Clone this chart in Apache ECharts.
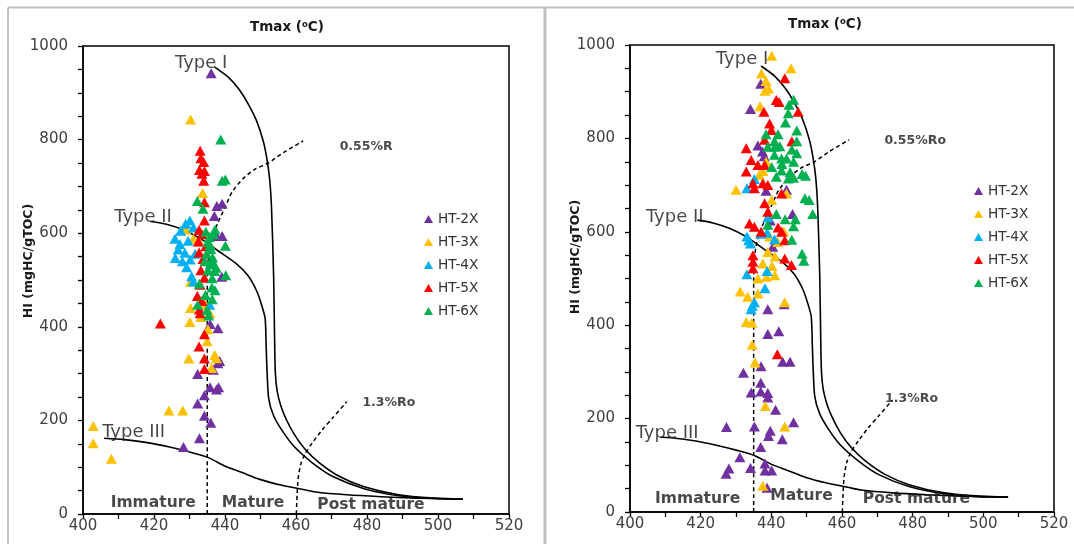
<!DOCTYPE html>
<html>
<head>
<meta charset="utf-8">
<script src="https://cdn.jsdelivr.net/npm/echarts@6/dist/echarts.min.js"></script>
<style>
html,body{margin:0;padding:0;background:#fff;}
#chart{width:1074px;height:544px;}
</style>
</head>
<body>
<div id="chart"></div>
<script>
// HI vs Tmax cross-plots for two sample sets, with kerogen type curves
const groups = ['HT-2X', 'HT-3X', 'HT-4X', 'HT-5X', 'HT-6X'];
const groupColors = ['#7030A0', '#FFC000', '#00B0F0', '#FF0000', '#00B050'];

const xTicks = [400, 420, 440, 460, 480, 500, 520];
const yTicks = [0, 200, 400, 600, 800, 1000];

// ---- left panel samples [Tmax, HI]
const leftHT2X = [[436.1,942],[437.7,658],[439.2,663],[437.0,637],[437.6,594],[439.2,594],[439.1,507],[435.8,406],[438.0,397],[438.0,322],[438.5,327],[436.7,308],[432.3,299],[435.8,271],[437.6,266],[438.2,271],[434.2,254],[432.3,236],[434.2,210],[436.0,195],[432.8,162],[428.3,143]];
const leftHT3X = [[430.3,843],[433.7,686],[429.0,608],[432.8,582],[431.1,588],[430.3,496],[430.3,440],[430.1,410],[435.2,395],[435.0,369],[437.1,340],[437.6,333],[429.8,332],[436.2,312],[435.7,429],[433.2,421],[424.2,221],[428.1,221],[402.9,188],[402.9,151],[408.0,118],[434.6,447]];
const leftHT4X = [[430.1,627],[428.9,620],[431.1,612],[427.5,605],[425.9,588],[427.3,577],[429.6,584],[426.8,565],[428.7,558],[426.0,547],[430.2,544],[428.0,540],[429.2,527],[430.6,508],[431.1,497],[431.6,556],[435.7,447]];
const leftHT5X = [[433.0,776],[433.2,760],[434.0,752],[432.8,735],[434.2,733],[433.5,727],[434.0,712],[434.2,666],[434.2,627],[432.7,607],[433.5,598],[432.5,582],[434.6,572],[432.7,559],[433.8,545],[433.2,521],[434.2,505],[433.0,490],[432.2,466],[433.5,455],[432.8,437],[433.0,429],[421.8,407],[434.2,384],[432.7,358],[434.2,332],[434.2,310]];
const leftHT6X = [[438.8,800],[439.2,712],[440.1,715],[432.2,669],[433.8,652],[437.2,608],[434.6,603],[435.6,592],[436.8,598],[440.1,573],[435.2,581],[436.0,566],[434.8,556],[436.5,548],[434.3,540],[435.8,533],[437.5,526],[435.2,521],[437.1,519],[440.2,510],[436.4,504],[432.8,492],[436.3,484],[437.2,478],[434.5,468],[436.4,459],[432.3,447],[434.9,436],[435.4,424],[435.8,575],[436.4,540]];

// ---- right panel samples [Tmax, HI]
const rightHT2X = [[437.0,917],[434.1,863],[436.2,785],[437.5,772],[438.0,762],[438.5,688],[444.3,690],[446.0,638],[439.7,624],[440.4,568],[443.6,445],[439.0,434],[439.0,381],[442.1,387],[437.1,312],[432.1,298],[443.2,322],[445.3,322],[434.3,256],[437.0,277],[437.0,258],[439.0,255],[439.0,245],[441.2,219],[446.3,192],[427.3,182],[435.2,183],[439.7,174],[439.2,163],[443.1,156],[437.0,139],[431.1,117],[428.0,93],[427.2,82],[434.1,94],[438.2,104],[438.2,89],[440.1,89],[438.8,52]];
const rightHT3X = [[440.1,977],[445.6,950],[437.2,939],[438.5,923],[438.2,902],[439.2,907],[436.8,869],[438.5,750],[437.6,730],[436.6,722],[430.0,690],[440.1,668],[444.3,682],[443.5,601],[439.0,557],[441.0,547],[437.6,532],[440.2,527],[436.2,500],[438.6,504],[441.0,507],[431.2,472],[433.3,461],[436.2,468],[432.9,407],[434.5,405],[434.6,358],[435.4,320],[443.8,449],[438.3,227],[443.8,183],[437.6,56],[439.5,590],[441.8,578]];
const rightHT4X = [[433.1,693],[435.2,713],[433.1,590],[434.1,575],[433.6,582],[437.0,596],[439.0,631],[438.8,598],[440.9,584],[433.1,509],[438.8,516],[438.2,479],[435.2,449],[434.3,434],[434.6,441]];
const rightHT5X = [[443.8,929],[441.4,882],[442.2,878],[437.9,857],[447.6,857],[439.5,832],[440.0,818],[438.1,797],[445.8,794],[432.9,779],[434.3,754],[436.2,743],[438.1,743],[432.9,729],[434.8,704],[435.2,693],[437.6,704],[439.0,700],[442.9,682],[438.1,661],[439.0,643],[433.8,618],[435.2,611],[437.1,600],[442.9,600],[443.8,582],[441.9,609],[434.8,550],[434.8,536],[434.8,522],[443.8,543],[445.7,529],[441.7,338]];
const rightHT6X = [[446.3,883],[445.0,872],[444.8,854],[444.0,834],[447.2,817],[447.2,794],[438.5,809],[441.9,809],[440.9,794],[442.4,783],[445.8,776],[447.2,768],[440.9,765],[442.9,757],[444.3,757],[446.3,750],[440.1,739],[442.9,731],[445.3,728],[448.7,724],[446.3,716],[449.7,720],[444.8,714],[441.4,718],[439.0,782],[441.0,782],[449.5,672],[450.7,668],[451.7,638],[441.4,638],[443.9,627],[446.8,627],[446.3,612],[445.8,583],[448.7,553],[449.2,538],[439.0,615],[443.0,745]];

// ---- kerogen type evolution paths and maturity boundaries [Tmax, HI]
const typeI = [[437.1,955],[441.0,933],[444.0,907],[446.4,878],[448.9,840],[450.8,796],[451.8,759],[452.6,714],[453.1,655],[453.7,507],[454.0,358],[454.2,299],[454.7,262],[455.7,232],[457.2,203],[459.6,169],[462.5,139],[466.5,110],[472.3,80],[479.2,58],[488.9,41],[498.7,34],[507.0,32]];
const typeII = [[419.1,625],[423.5,619],[428.3,607],[433.2,588],[438.1,562],[443.0,536],[446.4,510],[448.9,477],[450.3,447],[451.3,418],[451.6,358],[451.8,314],[452.3,247],[453.7,210],[456.2,177],[459.6,143],[464.5,110],[470.4,80],[479.2,54],[488.9,39],[498.7,33],[507.0,32]];
const typeIIILeft = [[405.9,162],[411.7,159],[418.6,152],[424.4,143],[430.3,132],[435.2,121],[440.1,102],[445.0,88],[449.8,74],[455.7,62],[461.6,53],[465.5,47],[474.3,41],[484.0,37],[493.8,34],[507.0,32]];
const typeIIIRight = [[408.6,160],[411.7,159],[418.6,152],[424.4,143],[430.3,132],[435.2,121],[440.1,102],[445.0,88],[449.8,74],[455.7,62],[461.6,53],[465.5,47],[474.3,41],[484.0,37],[493.8,34],[507.0,32]];
const ro055 = [[435,0],[435,500],[435.5,560],[436.5,595],[438,622],[440,655],[442,688],[445,716],[448.5,737],[452.2,750],[456.4,772],[462,797]];
const ro13 = [[460.1,0],[460.3,40],[460.6,75],[461.3,105],[462.5,128],[464.5,151],[467.4,180],[470.4,206],[474.3,240]];

// ---- annotation texts: [text, Tmax, HI, kind]
const leftNotes = [['Type I',425.9,963,'type'],['Type II',408.8,633,'type'],['Type III',405.4,175,'type'],
  ['0.55%R',472.3,785,'ro'],['1.3%Ro',478.7,238,'ro'],
  ['Immature',407.8,23,'zone'],['Mature',439.1,23,'zone'],['Post mature',466.0,18.5,'zone']];
const rightNotes = [['Type I',424.3,969,'type'],['Type II',404.5,631,'type'],['Type III',401.6,169,'type'],
  ['0.55%Ro',472.0,795,'ro'],['1.3%Ro',472.2,243,'ro'],
  ['Immature',407.1,28,'zone'],['Mature',439.7,35,'zone'],['Post mature',465.9,28,'zone']];

const FONT = 'DejaVu Sans';
const noteStyles = {
  type: {fontSize: 18, fontWeight: 'normal', color: '#1a1a1a'},
  ro:   {fontSize: 12.5, fontWeight: 'bold', color: '#1a1a1a'},
  zone: {fontSize: 15.5, fontWeight: 'bold', color: '#1a1a1a'}
};

const panels = [
  {grid: {left: 83, top: 46, width: 426, height: 468},
   samples: [leftHT2X, leftHT3X, leftHT4X, leftHT5X, leftHT6X],
   typeIII: typeIIILeft, notes: leftNotes,
   legend: {left: 419, top: 207}, title: [287, 27], yName: [28.5, 261]},
  {grid: {left: 630, top: 45, width: 424, height: 467},
   samples: [rightHT2X, rightHT3X, rightHT4X, rightHT5X, rightHT6X],
   typeIII: typeIIIRight, notes: rightNotes,
   legend: {left: 969, top: 179}, title: [825, 24], yName: [576, 257]}
];

const black = '#000';
const grids = [], xAxes = [], yAxes = [], series = [], legends = [];
const graphics = [
  // light grey panel frames
  {type: 'line', shape: {x1: 8, y1: 7.5, x2: 1074, y2: 7.5}, style: {stroke: '#c0c0c0', lineWidth: 2}},
  {type: 'line', shape: {x1: 8, y1: 7.5, x2: 8, y2: 544}, style: {stroke: '#c0c0c0', lineWidth: 2}},
  {type: 'line', shape: {x1: 545, y1: 7.5, x2: 545, y2: 544}, style: {stroke: '#c0c0c0', lineWidth: 3}}
];

const plainNumber = v => String(v);

panels.forEach((p, i) => {
  grids.push({left: p.grid.left, top: p.grid.top, width: p.grid.width, height: p.grid.height,
    show: true, borderColor: black, borderWidth: 1.5, backgroundColor: 'transparent'});
  const tickStyle = {color: black, width: 1.3};
  xAxes.push({gridIndex: i, type: 'value', min: xTicks[0], max: xTicks[xTicks.length - 1],
    interval: xTicks[1] - xTicks[0],
    axisLine: {show: true, onZero: false, lineStyle: {color: black, width: 1.5}},
    axisTick: {show: true, inside: false, length: 5, lineStyle: tickStyle},
    minorTick: {show: true, splitNumber: 2, length: 5, lineStyle: tickStyle},
    splitLine: {show: false}, minorSplitLine: {show: false},
    axisLabel: {fontFamily: FONT, fontSize: 15, color: '#404040', margin: 5, formatter: plainNumber}});
  yAxes.push({gridIndex: i, type: 'value', min: yTicks[0], max: yTicks[yTicks.length - 1],
    interval: yTicks[1] - yTicks[0],
    axisLine: {show: true, onZero: false, lineStyle: {color: black, width: 1.5}},
    axisTick: {show: true, inside: false, length: 5, lineStyle: tickStyle},
    minorTick: {show: true, splitNumber: 4, length: 5, lineStyle: tickStyle},
    splitLine: {show: false}, minorSplitLine: {show: false},
    axisLabel: {fontFamily: FONT, fontSize: 15, color: '#404040', margin: 15, formatter: plainNumber}});

  // curves
  const solid = {color: black, width: 1.6};
  const dashed = {color: black, width: 1.5, type: [4, 3]};
  [[typeI, solid], [typeII, solid], [p.typeIII, solid], [ro055, dashed], [ro13, dashed]].forEach(([d, ls]) => {
    series.push({type: 'line', xAxisIndex: i, yAxisIndex: i, data: d, symbol: 'none', showSymbol: false,
      smooth: 0.25, lineStyle: ls, silent: true, z: 2, animation: false});
  });

  // samples
  groups.forEach((g, k) => {
    series.push({name: g, type: 'scatter', xAxisIndex: i, yAxisIndex: i, data: p.samples[k],
      symbol: 'triangle', symbolSize: [11, 10], itemStyle: {color: groupColors[k], opacity: 1},
      z: 3, animation: false});
  });

  // annotations
  series.push({type: 'scatter', xAxisIndex: i, yAxisIndex: i, symbolSize: 0, silent: true, z: 5,
    animation: false,
    data: p.notes.map(n => ({name: n[0], value: [n[1], n[2]],
      label: Object.assign({show: true, position: 'right', distance: 0, formatter: '{b}', fontFamily: FONT}, noteStyles[n[3]])}))
  });

  legends.push({orient: 'vertical', left: p.legend.left, top: p.legend.top, selectedMode: false,
    data: groups.map(g => ({name: g, icon: 'triangle'})),
    itemWidth: 9, itemHeight: 8, itemGap: 9,
    textStyle: {fontFamily: FONT, fontSize: 13.7, color: '#333'}});

  graphics.push({type: 'text', x: p.title[0], y: p.title[1],
    style: {text: 'Tmax ({s|o}C)', fontFamily: FONT, fontSize: 13.5, fontWeight: 'bold', fill: '#1a1a1a',
      align: 'center', verticalAlign: 'middle', textAlign: 'center', textVerticalAlign: 'middle',
      rich: {s: {fontFamily: FONT, fontSize: 8.5, fontWeight: 'bold', fill: '#1a1a1a', verticalAlign: 'top'}}}});
  graphics.push({type: 'text', x: p.yName[0], y: p.yName[1], rotation: Math.PI / 2,
    style: {text: 'HI (mgHC/gTOC)', fontFamily: FONT, fontSize: 12.5, fontWeight: 'bold', fill: '#1a1a1a',
      align: 'center', verticalAlign: 'middle', textAlign: 'center', textVerticalAlign: 'middle'}});
});

const chart = echarts.init(document.getElementById('chart'), null, {renderer: 'canvas'});
chart.setOption({
  animation: false,
  backgroundColor: '#fff',
  grid: grids, xAxis: xAxes, yAxis: yAxes,
  legend: legends, series: series, graphic: graphics
});
</script>
</body>
</html>
